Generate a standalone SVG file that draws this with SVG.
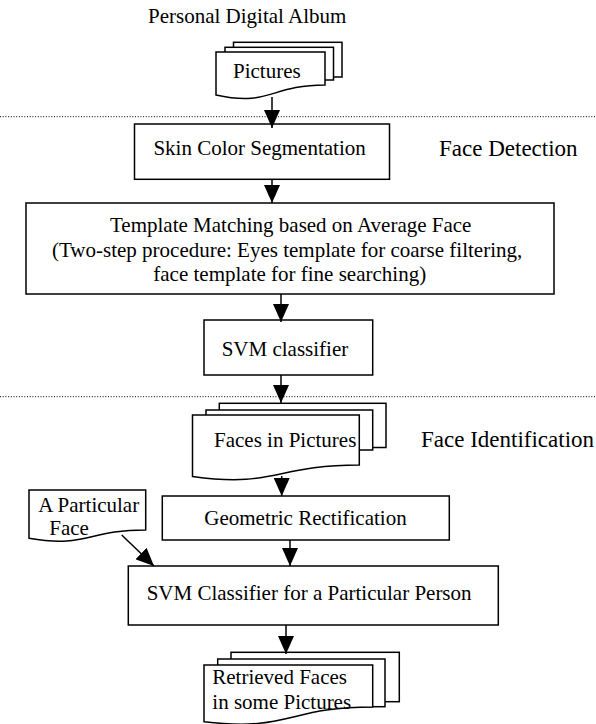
<svg xmlns="http://www.w3.org/2000/svg" width="596" height="724" viewBox="0 0 596 724">
  <style>
    .box { fill: #fff; stroke: #000; stroke-width: 1.5; }
    .t { font-family: "Liberation Serif", "Times New Roman", serif; font-size: 21px; fill: #000; }
    .lbl { font-family: "Liberation Serif", "Times New Roman", serif; font-size: 23px; fill: #000; }
    .sep { stroke: #000; stroke-width: 1; stroke-dasharray: 1 1.7; }
    .edge { stroke: #000; stroke-width: 1.5; fill: none; marker-end: url(#arrow); }
  </style>
  <defs>
    <marker id="arrow" markerUnits="userSpaceOnUse" markerWidth="18" markerHeight="16" refX="18" refY="8" orient="auto">
      <path d="M0,0 L18,8 L0,16 Z" fill="#000"/>
    </marker>
  </defs>

  <!-- section separators -->
  <line class="sep" x1="0" y1="116.7" x2="596" y2="116.7"/>
  <line class="sep" x1="0" y1="396.7" x2="596" y2="396.7"/>

  <text class="t" x="148" y="23">Personal Digital Album</text>
  <text class="lbl" x="439" y="156">Face Detection</text>
  <text class="lbl" x="421" y="447">Face Identification</text>

  <g id="pictures">
    <rect class="box" x="233.5" y="42.3" width="108.5" height="34.7"/>
    <rect class="box" x="225" y="47.3" width="108.5" height="32.7"/>
    <path class="box" d="M216,52 H325 V85 C270,85 270,107 216,95 Z"/>
    <text class="t" x="233" y="77.5">Pictures</text>
  </g>

  <g id="skin-color">
    <rect class="box" x="134.5" y="124" width="255" height="55.3"/>
    <text class="t" x="153.4" y="155">Skin Color Segmentation</text>
  </g>

  <g id="template-matching">
    <rect class="box" x="26" y="203" width="528" height="91"/>
    <text class="t" x="110" y="231.7">Template Matching based on Average Face</text>
    <text class="t" x="52" y="256.7">(Two-step procedure: Eyes template for coarse filtering,</text>
    <text class="t" x="153.3" y="280.7">face template for fine searching)</text>
  </g>

  <g id="svm-classifier">
    <rect class="box" x="204" y="320" width="168.7" height="55"/>
    <text class="t" x="221.7" y="356">SVM classifier</text>
  </g>

  <g id="faces-in-pictures">
    <rect class="box" x="219.3" y="403.3" width="166.7" height="44.2"/>
    <rect class="box" x="206" y="410" width="166.7" height="40"/>
    <path class="box" d="M192.5,415 H359.3 V465 C275,465 275,488 192.5,476.5 Z"/>
    <text class="t" x="214" y="446.7">Faces in Pictures</text>
  </g>

  <g id="particular-face">
    <path class="box" d="M29,490 H145.7 V530 C87,530 87,548 29,538.3 Z"/>
    <text class="t" x="38.3" y="511.7">A Particular</text>
    <text class="t" x="49.3" y="535">Face</text>
  </g>

  <g id="geometric-rectification">
    <rect class="box" x="162.3" y="496" width="287" height="44"/>
    <text class="t" x="204.3" y="525">Geometric Rectification</text>
  </g>

  <g id="person-classifier">
    <rect class="box" x="128.3" y="566" width="370" height="59"/>
    <text class="t" x="146.7" y="600">SVM Classifier for a Particular Person</text>
  </g>

  <g id="retrieved-faces">
    <rect class="box" x="231" y="652.3" width="168.3" height="49.4"/>
    <rect class="box" x="217.7" y="659" width="167.3" height="47.7"/>
    <path class="box" d="M204,665 H372.7 V707 C288,707 288,732 204,721.7 Z"/>
    <text class="t" x="212.3" y="684">Retrieved Faces</text>
    <text class="t" x="212.3" y="709">in some Pictures</text>
  </g>

  <g id="connectors">
    <line class="edge" x1="272" y1="97" x2="272" y2="128"/>
    <line class="edge" x1="272" y1="179.3" x2="272" y2="203"/>
    <line class="edge" x1="281" y1="294" x2="281" y2="322"/>
    <line class="edge" x1="281" y1="375" x2="281" y2="403"/>
    <line class="edge" x1="281.7" y1="476" x2="281.7" y2="496"/>
    <line class="edge" x1="290" y1="540" x2="290" y2="566"/>
    <line class="edge" x1="121.7" y1="535" x2="154" y2="566"/>
    <line class="edge" x1="286" y1="625" x2="286" y2="654"/>
  </g>
</svg>
